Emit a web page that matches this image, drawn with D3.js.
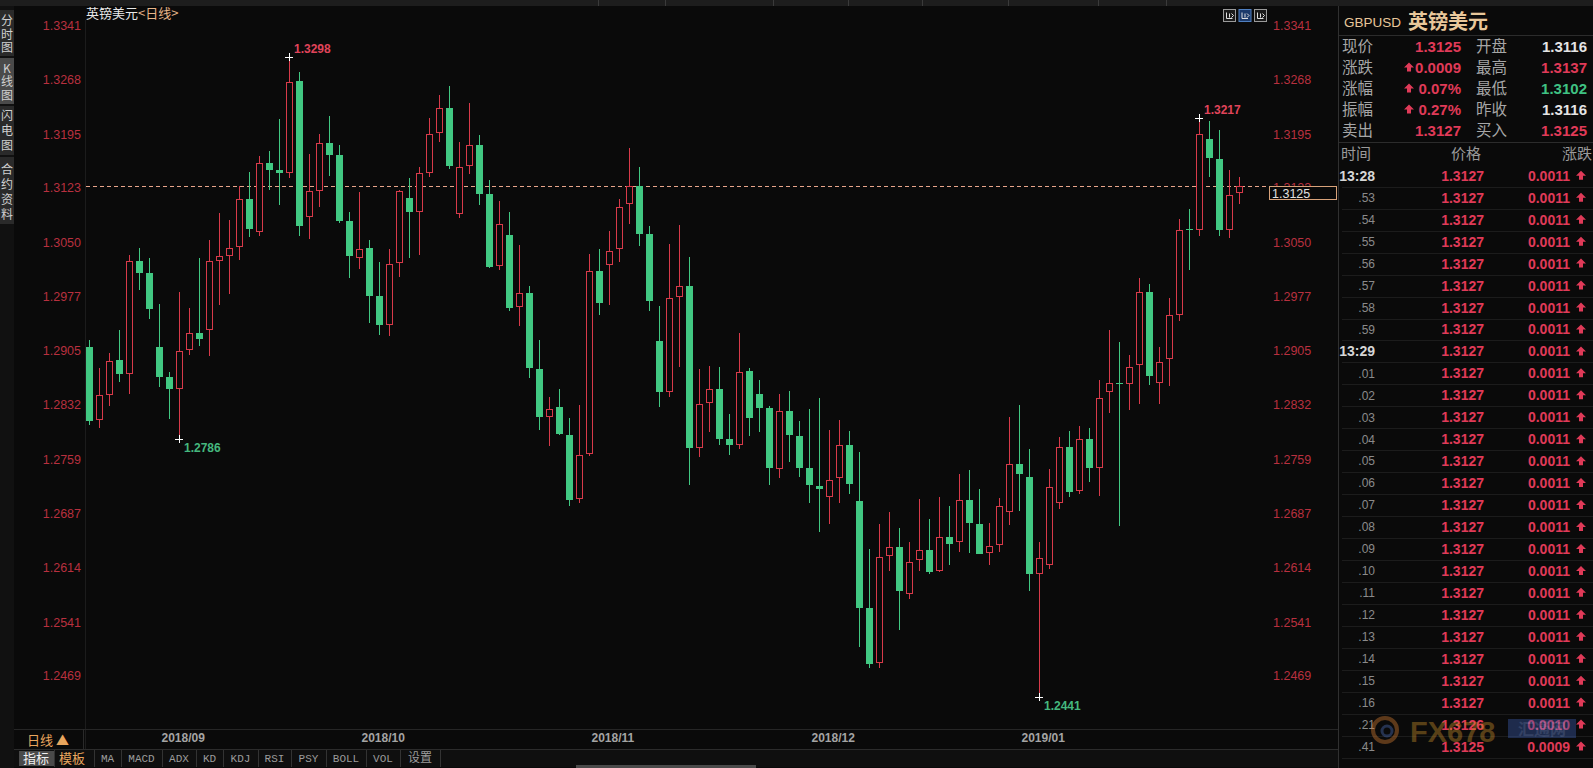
<!DOCTYPE html>
<html><head><meta charset="utf-8">
<script src="https://cdn.jsdelivr.net/npm/d3@7"></script>
<style>
html,body{margin:0;padding:0;background:#0a0a0a;overflow:hidden;}
svg{display:block;}
</style></head>
<body>
<svg id="c" width="1593" height="768"></svg>
<script>
// ---------- DATA ----------
const opens  = [1.2910,1.2812,1.2846,1.2892,1.2873,1.3025,1.3009,1.2910,1.2869,1.2854,
1.2906,1.2929,1.2933,1.3025,1.3032,1.3044,1.3108,1.3064,1.3156,1.3147,
1.3143,1.3266,1.3084,1.3119,1.3183,1.3167,1.3079,1.3029,1.3042,1.2978,
1.2939,1.3022,1.3109,1.3090,1.3143,1.3196,1.3230,1.3088,1.3152,1.3180,
1.3115,1.3018,1.3060,1.2963,1.2982,1.2880,1.2816,1.2829,1.2792,1.2706,
1.2766,1.3011,1.3020,1.3041,1.3101,1.3125,1.3061,1.2918,1.2849,1.2977,
1.2991,1.2774,1.2834,1.2853,1.2786,1.2778,1.2878,1.2847,1.2828,1.2746,
1.2824,1.2790,1.2747,1.2723,1.2709,1.2734,1.2779,1.2703,1.2560,1.2486,
1.2630,1.2641,1.2579,1.2624,1.2637,1.2609,1.2655,1.2648,1.2704,1.2673,
1.2633,1.2644,1.2688,1.2753,1.2735,1.2606,1.2618,1.2700,1.2775,1.2717,
1.2787,1.2747,1.2849,1.2862,1.2860,1.2886,1.2984,1.2861,1.2894,1.2953,
1.3068,1.3067,1.3188,1.3161,1.3067,1.3116];
const highs  = [1.2919,1.2881,1.2901,1.2933,1.3033,1.3043,1.3029,1.2967,1.2876,1.2983,
1.2962,1.3029,1.3053,1.3089,1.3080,1.3125,1.3144,1.3166,1.3172,1.3215,
1.3298,1.3278,1.3168,1.3195,1.3219,1.3181,1.3090,1.3117,1.3053,1.3024,
1.3041,1.3120,1.3136,1.3151,1.3216,1.3248,1.3260,1.3184,1.3237,1.3194,
1.3133,1.3105,1.3090,1.3046,1.2991,1.2919,1.2843,1.2853,1.2814,1.2832,
1.3035,1.3041,1.3065,1.3108,1.3177,1.3151,1.3072,1.2965,1.3048,1.3073,
1.3030,1.2880,1.2884,1.2883,1.2820,1.2928,1.2882,1.2865,1.2831,1.2847,
1.2851,1.2811,1.2826,1.2841,1.2798,1.2812,1.2797,1.2769,1.2639,1.2673,
1.2688,1.2667,1.2648,1.2706,1.2679,1.2708,1.2697,1.2739,1.2745,1.2719,
1.2674,1.2707,1.2816,1.2832,1.2773,1.2648,1.2746,1.2789,1.2797,1.2804,
1.2801,1.2866,1.2932,1.2916,1.2899,1.3002,1.2994,1.2910,1.2975,1.3081,
1.3095,1.3217,1.3212,1.3200,1.3147,1.3137];
const lows   = [1.2805,1.2801,1.2830,1.2863,1.2847,1.2986,1.2947,1.2856,1.2813,1.2786,
1.2899,1.2911,1.2898,1.2966,1.2981,1.3026,1.3057,1.3058,1.3120,1.3100,
1.3136,1.3058,1.3055,1.3097,1.3139,1.3076,1.3002,1.3014,1.2942,1.2926,
1.2924,1.3004,1.3029,1.3033,1.3137,1.3184,1.3148,1.3083,1.3142,1.3100,
1.3016,1.3013,1.2958,1.2938,1.2868,1.2798,1.2777,1.2792,1.2697,1.2700,
1.2764,1.2953,1.2966,1.3023,1.3075,1.3045,1.2958,1.2829,1.2843,1.2883,
1.2725,1.2762,1.2796,1.2778,1.2765,1.2773,1.2791,1.2796,1.2725,1.2734,
1.2756,1.2736,1.2700,1.2662,1.2673,1.2701,1.2713,1.2507,1.2480,1.2479,
1.2610,1.2530,1.2572,1.2610,1.2606,1.2608,1.2618,1.2635,1.2634,1.2632,
1.2618,1.2635,1.2671,1.2690,1.2583,1.2441,1.2612,1.2693,1.2708,1.2713,
1.2729,1.2710,1.2821,1.2670,1.2825,1.2833,1.2859,1.2833,1.2857,1.2945,
1.3013,1.3059,1.3137,1.3058,1.3056,1.3102];
const closes = [1.2811,1.2845,1.2891,1.2873,1.3025,1.3009,1.2960,1.2870,1.2854,1.2904,
1.2929,1.2920,1.3025,1.3032,1.3043,1.3108,1.3068,1.3156,1.3147,1.3143,
1.3265,1.3072,1.3119,1.3183,1.3167,1.3079,1.3031,1.3041,1.2978,1.2939,
1.3021,1.3119,1.3090,1.3143,1.3195,1.3230,1.3152,1.3151,1.3180,1.3115,
1.3017,1.3075,1.2962,1.2982,1.2881,1.2816,1.2826,1.2793,1.2705,1.2765,
1.3011,1.2969,1.3039,1.3098,1.3125,1.3061,1.2972,1.2849,1.2976,1.2991,
1.2774,1.2833,1.2853,1.2787,1.2778,1.2876,1.2814,1.2828,1.2747,1.2824,
1.2792,1.2748,1.2725,1.2719,1.2732,1.2779,1.2726,1.2560,1.2485,1.2628,
1.2641,1.2582,1.2622,1.2637,1.2608,1.2655,1.2645,1.2704,1.2674,1.2632,
1.2643,1.2697,1.2753,1.2740,1.2606,1.2627,1.2722,1.2775,1.2716,1.2787,
1.2747,1.2842,1.2862,1.2860,1.2883,1.2984,1.2871,1.2890,1.2952,1.3067,
1.3066,1.3195,1.3163,1.3066,1.3114,1.3125];

const yTicks = ["1.3341","1.3268","1.3195","1.3123","1.3050","1.2977","1.2905","1.2832","1.2759","1.2687","1.2614","1.2541","1.2469"];
const monthLabels = ["2018/09","2018/10","2018/11","2018/12","2019/01"];
const monthStartIdx = [7,27,50,72,93];
const currentPrice = 1.3125;
const markHigh = [{i:20,v:1.3298},{i:111,v:1.3217}];
const markLow  = [{i:9,v:1.2786},{i:95,v:1.2441}];

const quoteLeftLabels  = ["现价","涨跌","涨幅","振幅","卖出"];
const quoteLeftValues  = ["1.3125","0.0009","0.07%","0.27%","1.3127"];
const quoteLeftArrow   = [false,true,true,true,false];
const quoteRightLabels = ["开盘","最高","最低","昨收","买入"];
const quoteRightValues = ["1.3116","1.3137","1.3102","1.3116","1.3125"];
const quoteRightKind   = ["flat","up","down","flat","up"];

const tickTimes   = ["13:28",".53",".54",".55",".56",".57",".58",".59","13:29",".01",".02",".03",".04",".05",".06",".07",".08",".09",".10",".11",".12",".13",".14",".15",".16",".21",".41"];
const tickPrices  = ["1.3127","1.3127","1.3127","1.3127","1.3127","1.3127","1.3127","1.3127","1.3127","1.3127","1.3127","1.3127","1.3127","1.3127","1.3127","1.3127","1.3127","1.3127","1.3127","1.3127","1.3127","1.3127","1.3127","1.3127","1.3127","1.3126","1.3125"];
const tickChanges = ["0.0011","0.0011","0.0011","0.0011","0.0011","0.0011","0.0011","0.0011","0.0011","0.0011","0.0011","0.0011","0.0011","0.0011","0.0011","0.0011","0.0011","0.0011","0.0011","0.0011","0.0011","0.0011","0.0011","0.0011","0.0011","0.0010","0.0009"];

const toolItems = ["MA","MACD","ADX","KD","KDJ","RSI","PSY","BOLL","VOL","设置"];

// ---------- STYLE ----------
const RED = "#d83a4a", GREEN = "#41c882", AXRED = "#b8303f", TXTRED = "#e03a58";
const CJK = "'Noto Sans CJK SC','Noto Sans',sans-serif";
const NUM = "'Liberation Sans',Arial,sans-serif";

const svg = d3.select("#c");
svg.append("rect").attr("width",1593).attr("height",768).attr("fill","#0a0a0a");

// scales
const data = opens.map((o,i)=>({i, o, h:highs[i], l:lows[i], c:closes[i]}));
const x = d3.scaleBand().domain(d3.range(data.length)).range([84.5,1244.5]).paddingInner(0.3).paddingOuter(0.15);
const cx = i => x(i) + x.bandwidth()/2;
const y = d3.scaleLinear().domain([1.2469,1.3341]).range([675.8,25.2]);

// ---------- top strip ----------
svg.append("rect").attr("x",0).attr("y",0).attr("width",1593).attr("height",6).attr("fill","#1d1d1d");
[598,665,773,848,922,1008,1098,1166].forEach(px=>{
  svg.append("line").attr("x1",px+0.5).attr("x2",px+0.5).attr("y1",0).attr("y2",6).attr("stroke","#3a3a3a");
});

// ---------- left strip ----------
svg.append("rect").attr("x",0).attr("y",6).attr("width",14).attr("height",762).attr("fill","#111");
const tabs = [
  {chars:["分","时","图"], ys:[21,34.5,48], y0:10, y1:56, bg:"#2a2a2a"},
  {chars:["K","线","图"], ys:[69,82,96], y0:58, y1:104, bg:"#4a4a4a"},
  {chars:["闪","电","图"], ys:[116,131,146], y0:106, y1:155, bg:"#2a2a2a"},
  {chars:["合","约","资","料"], ys:[170,185,200,215], y0:157, y1:224, bg:"#2a2a2a"}
];
tabs.forEach(t=>{
  svg.append("rect").attr("x",0).attr("y",t.y0).attr("width",14).attr("height",t.y1-t.y0).attr("fill",t.bg);
  t.chars.forEach((ch,k)=>{
    svg.append("text").attr("x",7).attr("y",t.ys[k]).attr("dy","0.36em").attr("text-anchor","middle")
      .attr("font-family",CJK).attr("font-size",12).attr("fill","#d0d0d0").text(ch);
  });
});

// ---------- separators ----------
svg.append("line").attr("x1",85.5).attr("x2",85.5).attr("y1",20).attr("y2",749).attr("stroke","#1c1c1c");
svg.append("line").attr("x1",1338.5).attr("x2",1338.5).attr("y1",6).attr("y2",768).attr("stroke","#303030");

// title
const title = svg.append("text").attr("x",86).attr("y",18).attr("font-family",CJK).attr("font-size",13);
title.append("tspan").attr("fill","#e8e8e8").text("英镑美元");
title.append("tspan").attr("fill","#e6b58a").text("<日线>");

// icons top-right of chart
[[1223,"#1a1a1a","#9a9a9a"],[1238.5,"#1c3a6a","#4f7fc0"],[1254,"#1a1a1a","#9a9a9a"]].forEach(([ix,bg,st])=>{
  svg.append("rect").attr("x",ix+0.5).attr("y",9.5).attr("width",12).attr("height",12).attr("fill",bg).attr("stroke",st);
  svg.append("path").attr("d",`M${ix+3.5},12.5 v6 h6 M${ix+6.5},13.5 v4 M${ix+8.5},13.5 l2,2 l-2,2`).attr("stroke","#e0e0e0").attr("fill","none");
});

// ---------- y axes ----------
const yLeft = d3.axisLeft(y).tickValues(yTicks.map(Number)).tickFormat(d=>yTicks.find(t=>+t===d)).tickSize(0).tickPadding(0);
const gL = svg.append("g").attr("transform","translate(81,0)").call(yLeft);
gL.select(".domain").remove();
gL.selectAll("text").attr("font-family",NUM).attr("font-size",12.5).attr("fill",AXRED);

const yRight = d3.axisRight(y).tickValues(yTicks.map(Number)).tickFormat(d=>yTicks.find(t=>+t===d)).tickSize(0).tickPadding(0);
const gR = svg.append("g").attr("transform","translate(1273,0)").call(yRight);
gR.select(".domain").remove();
gR.selectAll("text").attr("font-family",NUM).attr("font-size",12.5).attr("fill",AXRED);

// current price dashed line
const cpY = Math.round(y(currentPrice))+0.5;
svg.append("line").attr("x1",86).attr("x2",1269).attr("y1",cpY).attr("y2",cpY)
  .attr("stroke","#e8a48a").attr("stroke-dasharray","4,3");

// ---------- candles ----------
const g = svg.append("g");
const cand = g.selectAll("g.cd").data(data).join("g").attr("class","cd");
cand.append("line")
  .attr("x1",d=>cx(d.i)).attr("x2",d=>cx(d.i))
  .attr("y1",d=>Math.round(y(d.h))).attr("y2",d=>Math.round(y(d.l)))
  .attr("stroke",d=>d.c>=d.o?RED:GREEN).attr("stroke-width",1);
cand.each(function(d){
  const s = d3.select(this);
  const top = Math.round(y(Math.max(d.o,d.c)));
  const bot = Math.round(y(Math.min(d.o,d.c)));
  const hgt = Math.max(1, bot-top);
  if (d.c>=d.o){
    s.append("rect").attr("x",x(d.i)+0.5).attr("y",top+0.5).attr("width",x.bandwidth()-1).attr("height",Math.max(1,hgt-1))
      .attr("fill","#0a0a0a").attr("stroke",RED).attr("stroke-width",1);
  } else {
    s.append("rect").attr("x",x(d.i)).attr("y",top).attr("width",x.bandwidth()).attr("height",hgt).attr("fill",GREEN);
  }
});

// price box
svg.append("rect").attr("x",1269.5).attr("y",cpY).attr("width",67).attr("height",13)
  .attr("fill","#0a0a0a").attr("stroke","#d8a27a");
svg.append("text").attr("x",1272).attr("y",cpY+11).attr("font-family",NUM).attr("font-size",12.5)
  .attr("fill","#e0e0e0").text(currentPrice.toFixed(4));

// high / low markers
function cross(px,py){
  svg.append("path").attr("d",`M${px-4},${py+0.5} h8 M${px+0.5},${py-4} v8`).attr("stroke","#ffffff").attr("stroke-width",1);
}
markHigh.forEach(m=>{
  const px = Math.round(cx(m.i)-0.5), py = Math.round(y(m.v));
  cross(px,py);
  svg.append("text").attr("x",px+5).attr("y",py-4).attr("font-family",NUM).attr("font-weight","bold")
    .attr("font-size",12).attr("fill","#e0445a").text(m.v.toFixed(4));
});
markLow.forEach(m=>{
  const px = Math.round(cx(m.i)-0.5), py = Math.round(y(m.v));
  cross(px,py);
  svg.append("text").attr("x",px+5).attr("y",py+13).attr("font-family",NUM).attr("font-weight","bold")
    .attr("font-size",12).attr("fill","#45b87e").text(m.v.toFixed(4));
});

// ---------- bottom axis ----------
svg.append("line").attr("x1",14).attr("x2",1338).attr("y1",729.5).attr("y2",729.5).attr("stroke","#262626");
svg.append("line").attr("x1",14).attr("x2",1338).attr("y1",749.5).attr("y2",749.5).attr("stroke","#2c2c2c");
svg.append("line").attr("x1",83.5).attr("x2",83.5).attr("y1",729).attr("y2",749).attr("stroke","#2a2a2a");
svg.append("text").attr("x",27).attr("y",745).attr("font-family",CJK).attr("font-size",13).attr("fill","#e9a65e").text("日线 ▲");

const xAxis = d3.axisBottom(x).tickValues(monthStartIdx).tickFormat((d,k)=>monthLabels[k]).tickSize(0).tickPadding(0);
const gX = svg.append("g").attr("transform","translate(0,733)").call(xAxis);
gX.select(".domain").remove();
gX.selectAll("text").attr("text-anchor","start").attr("x",2).attr("dy","0.75em")
  .attr("font-family",NUM).attr("font-weight","bold").attr("font-size",12).attr("fill","#a4a4a4");

// toolbar row
svg.append("rect").attr("x",14).attr("y",750).attr("width",1324).attr("height",17).attr("fill","#0f0f0f");
svg.append("rect").attr("x",19).attr("y",751).attr("width",35).attr("height",15).attr("fill","#4a4a4a");
svg.append("text").attr("x",36).attr("y",763).attr("text-anchor","middle").attr("font-family",CJK).attr("font-size",13).attr("fill","#f0f0f0").text("指标");
svg.append("text").attr("x",72).attr("y",763).attr("text-anchor","middle").attr("font-family",CJK).attr("font-size",13).attr("fill","#e9a65e").text("模板");
const seps = [54,94,121,162,196,223,258,291,326,366,400,440];
seps.forEach(px=>svg.append("line").attr("x1",px+0.5).attr("x2",px+0.5).attr("y1",750).attr("y2",767).attr("stroke","#333"));
toolItems.forEach((t,k)=>{
  const cxm = (seps[k+1]+seps[k+2])/2;
  svg.append("text").attr("x",cxm).attr("y",762).attr("text-anchor","middle")
    .attr("font-family", t==="设置"?CJK:"'Liberation Mono','DejaVu Sans Mono',monospace")
    .attr("font-size", t==="设置"?12:11).attr("fill","#9c9c9c").text(t);
});
svg.append("rect").attr("x",576).attr("y",765).attr("width",180).attr("height",3).attr("fill","#4a4a4a");

// ---------- right panel ----------
const P = svg.append("g");
P.append("text").attr("x",1344).attr("y",27).attr("font-family",NUM).attr("font-size",13.5).attr("fill","#e8c79a").text("GBPUSD");
P.append("text").attr("x",1408).attr("y",29).attr("font-family",CJK).attr("font-weight","bold").attr("font-size",20).attr("fill","#e8c79a").text("英镑美元");
P.append("line").attr("x1",1339).attr("x2",1593).attr("y1",35.5).attr("y2",35.5).attr("stroke","#2c2c2c");

function upArrow(ax, ay, color){
  P.append("path").attr("d",`M${ax},${ay-5} l-5,5 h3 v4 h4 v-4 h3 z`).attr("fill",color);
}
const infoY = [46.5,67.5,88.5,109.5,130.5];
quoteLeftLabels.forEach((lab,k)=>{
  P.append("text").attr("x",1342).attr("y",infoY[k]).attr("dy","0.36em").attr("font-family",CJK).attr("font-size",15.5).attr("fill","#a6a6a6").text(lab);
  P.append("text").attr("x",1461).attr("y",infoY[k]).attr("dy","0.36em").attr("text-anchor","end").attr("font-family",NUM).attr("font-weight","bold").attr("font-size",15).attr("fill",TXTRED).text(quoteLeftValues[k]);
  if (quoteLeftArrow[k]) upArrow(1409, infoY[k], TXTRED);
});
quoteRightLabels.forEach((lab,k)=>{
  P.append("text").attr("x",1476).attr("y",infoY[k]).attr("dy","0.36em").attr("font-family",CJK).attr("font-size",15.5).attr("fill","#a6a6a6").text(lab);
  const col = quoteRightKind[k]==="up"?TXTRED:(quoteRightKind[k]==="down"?"#3fc283":"#e4e4e4");
  P.append("text").attr("x",1587).attr("y",infoY[k]).attr("dy","0.36em").attr("text-anchor","end").attr("font-family",NUM).attr("font-weight","bold").attr("font-size",15).attr("fill",col).text(quoteRightValues[k]);
});
P.append("line").attr("x1",1339).attr("x2",1593).attr("y1",142.5).attr("y2",142.5).attr("stroke","#2c2c2c");
[["时间",1341,"start"],["价格",1466,"middle"],["涨跌",1592,"end"]].forEach(([t,px,an])=>{
  P.append("text").attr("x",px).attr("y",154).attr("dy","0.36em").attr("text-anchor",an).attr("font-family",CJK).attr("font-size",15).attr("fill","#9a9a9a").text(t);
});

const rowY0 = 175.8, rowH = 21.95;
tickTimes.forEach((t,k)=>{
  const ry = rowY0 + k*rowH;
  P.append("line").attr("x1",1342).attr("x2",1593).attr("y1",Math.round(ry+11)+0.5).attr("y2",Math.round(ry+11)+0.5).attr("stroke","#1c1c1c");
  const major = t.includes(":");
  P.append("text").attr("x",1375).attr("y",ry).attr("dy","0.36em").attr("text-anchor","end")
    .attr("font-family",NUM).attr("font-weight",major?"bold":"normal").attr("font-size",major?14:12)
    .attr("fill",major?"#d6d6d6":"#8a8a8a").text(t);
  P.append("text").attr("x",1484).attr("y",ry).attr("dy","0.36em").attr("text-anchor","end")
    .attr("font-family",NUM).attr("font-weight","bold").attr("font-size",14).attr("fill",TXTRED).text(tickPrices[k]);
  P.append("text").attr("x",1570).attr("y",ry).attr("dy","0.36em").attr("text-anchor","end")
    .attr("font-family",NUM).attr("font-weight","bold").attr("font-size",14).attr("fill",TXTRED).text(tickChanges[k]);
  upArrow(1581, ry, TXTRED);
});

// watermark (semi-transparent logo, as in the reference)
const wm = svg.append("g").attr("opacity",0.42);
wm.append("circle").attr("cx",1385).attr("cy",730).attr("r",12).attr("fill","none").attr("stroke","#d07a30").attr("stroke-width",4);
wm.append("circle").attr("cx",1387).attr("cy",731).attr("r",5).attr("fill","none").attr("stroke","#4a6ab0").attr("stroke-width",3);
wm.append("text").attr("x",1410).attr("y",742).attr("font-family",NUM).attr("font-weight","bold").attr("font-size",29).attr("fill","#c58a2a").text("FX678");
wm.append("rect").attr("x",1508).attr("y",719).attr("width",68).attr("height",19).attr("fill","#3a5aa8");
wm.append("text").attr("x",1542).attr("y",735).attr("text-anchor","middle").attr("font-family",CJK).attr("font-weight","bold").attr("font-size",16).attr("fill","#7090e0").text("汇通网");
</script>
</body></html>
